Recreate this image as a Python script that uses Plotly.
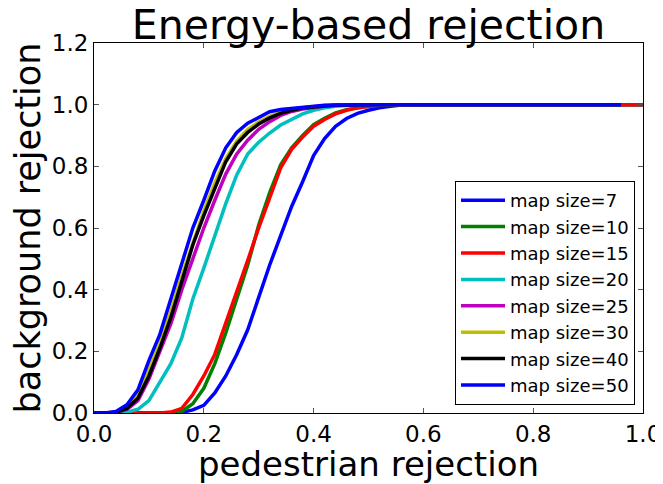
import plotly.graph_objects as go

# pedestrian rejection (x) grid
x_vals = [0.00, 0.02, 0.04, 0.06, 0.08, 0.10, 0.12, 0.14, 0.16, 0.18,
          0.20, 0.22, 0.24, 0.26, 0.28, 0.30, 0.32, 0.34, 0.36, 0.38,
          0.40, 0.42, 0.44, 0.46, 0.48, 0.50, 0.52, 0.54, 0.56, 0.58,
          0.60, 0.70, 0.80, 0.90, 0.96, 1.00]

# background rejection (y) per map size
ms7 = [0, 0, 0, 0, 0, 0, 0, 0, 0.002, 0.01,
       0.025, 0.065, 0.12, 0.19, 0.27, 0.375, 0.48, 0.575, 0.67, 0.75,
       0.835, 0.89, 0.93, 0.955, 0.972, 0.982, 0.99, 0.995, 0.999, 1,
       1, 1, 1, 1, 1, 1]
ms10 = [0, 0, 0, 0, 0, 0, 0, 0, 0.005, 0.03,
        0.08, 0.16, 0.26, 0.37, 0.48, 0.61, 0.715, 0.805, 0.86, 0.90,
        0.935, 0.956, 0.973, 0.984, 0.99, 0.995, 0.998, 0.999, 1, 1,
        1, 1, 1, 1, 1, 1]
ms15 = [0, 0, 0, 0, 0, 0, 0, 0.003, 0.015, 0.06,
        0.12, 0.19, 0.29, 0.39, 0.495, 0.60, 0.70, 0.795, 0.855, 0.895,
        0.93, 0.952, 0.97, 0.982, 0.99, 0.995, 0.998, 0.999, 1, 1,
        1, 1, 1, 1, 1, 1]
ms20 = [0, 0, 0, 0.003, 0.012, 0.04, 0.098, 0.16, 0.244, 0.37,
        0.47, 0.578, 0.679, 0.772, 0.84, 0.878, 0.908, 0.934, 0.953, 0.97,
        0.982, 0.99, 0.995, 0.998, 1, 1, 1, 1, 1, 1,
        1, 1, 1, 1, 1, None]
ms25 = [0, 0, 0.002, 0.012, 0.04, 0.11, 0.20, 0.29, 0.40, 0.50,
        0.60, 0.69, 0.775, 0.84, 0.885, 0.92, 0.945, 0.965, 0.978, 0.986,
        0.992, 0.996, 0.998, 0.999, 1, 1, 1, 1, 1, 1,
        1, 1, 1, 1, 1, None]
ms30 = [0, 0, 0.004, 0.02, 0.055, 0.14, 0.225, 0.33, 0.445, 0.55,
        0.655, 0.745, 0.825, 0.882, 0.92, 0.944, 0.962, 0.975, 0.984, 0.99,
        0.994, 0.997, 0.999, 1, 1, 1, 1, 1, 1, 1,
        1, 1, 1, 1, 1, None]
ms40 = [0, 0, 0.002, 0.015, 0.048, 0.12, 0.21, 0.31, 0.43, 0.545,
        0.64, 0.73, 0.815, 0.873, 0.91, 0.937, 0.957, 0.972, 0.982, 0.989,
        0.993, 0.996, 0.998, 0.999, 1, 1, 1, 1, 1, 1,
        1, 1, 1, 1, 1, None]
ms50 = [0, 0, 0.005, 0.027, 0.075, 0.17, 0.255, 0.37, 0.49, 0.60,
        0.69, 0.785, 0.86, 0.91, 0.94, 0.96, 0.977, 0.984, 0.988, 0.992,
        0.995, 0.998, 0.999, 1, 1, 1, 1, 1, 1, 1,
        1, 1, 1, 1, 1, None]

series_names = ["map size=7", "map size=10", "map size=15", "map size=20",
                "map size=25", "map size=30", "map size=40", "map size=50"]
series_values = [ms7, ms10, ms15, ms20, ms25, ms30, ms40, ms50]
series_colors = ["#0000ff", "#008000", "#ff0000", "#00bfbf",
                 "#bf00bf", "#bfbf00", "#000000", "#0000ff"]

x_ticks = [0.0, 0.2, 0.4, 0.6, 0.8, 1.0]
x_ticklabels = ["0.0", "0.2", "0.4", "0.6", "0.8", "1.0"]
y_ticks = [0.0, 0.2, 0.4, 0.6, 0.8, 1.0, 1.2]
y_ticklabels = ["0.0", "0.2", "0.4", "0.6", "0.8", "1.0", "1.2"]

FONT = "DejaVu Sans"

fig = go.Figure()
for i, (name, vals, col) in enumerate(zip(series_names, series_values, series_colors)):
    fig.add_trace(go.Scatter(
        x=x_vals, y=vals, mode="lines", name=name,
        line=dict(color=col, width=3.5),
        legendgroup=f"g{i}", connectgaps=False,
    ))

# the page body adds an 8px offset, so the figure is sized to fit the window
OFF = 8
W, H = 663 - OFF, 484 - OFF
L, R, T, B = 94 - OFF, 20, 43 - OFF, 71
PW, PH = W - L - R, H - T - B

axis_common = dict(
    showline=True, linecolor="black", linewidth=1, mirror="ticks",
    ticks="inside", ticklen=5, tickwidth=1, tickcolor="#555555",
    showgrid=False, zeroline=False, automargin=False,
    tickfont=dict(family=FONT, size=23, color="black"),
)

fig.update_layout(
    width=W, height=H,
    margin=dict(l=L, r=R, t=T, b=B, pad=0, autoexpand=False),
    paper_bgcolor="white", plot_bgcolor="white",
    font=dict(family=FONT, color="black"),
    title=dict(text="Energy-based rejection",
               font=dict(family=FONT, size=41, color="black"),
               x=(L + PW / 2) / W, xanchor="center",
               y=1 - (25 - OFF) / H, yanchor="middle", yref="container",
               automargin=False),
    xaxis=dict(range=[0, 1], tickvals=x_ticks, ticktext=x_ticklabels,
               title=dict(text="pedestrian rejection",
                          font=dict(family=FONT, size=34, color="black"),
                          standoff=3),
               **axis_common),
    yaxis=dict(range=[0, 1.2], tickvals=y_ticks, ticktext=y_ticklabels,
               title=dict(text="background rejection",
                          font=dict(family=FONT, size=35, color="black"),
                          standoff=0),
               **axis_common),
    legend=dict(
        x=(635 - 94) / PW, xanchor="right",
        y=(413 - 405) / PH, yanchor="bottom",
        bgcolor="white", bordercolor="black", borderwidth=1,
        font=dict(family=FONT, size=18, color="black"),
        tracegroupgap=0, itemwidth=44,
    ),
    showlegend=True,
)

fig.write_html("out.html")
